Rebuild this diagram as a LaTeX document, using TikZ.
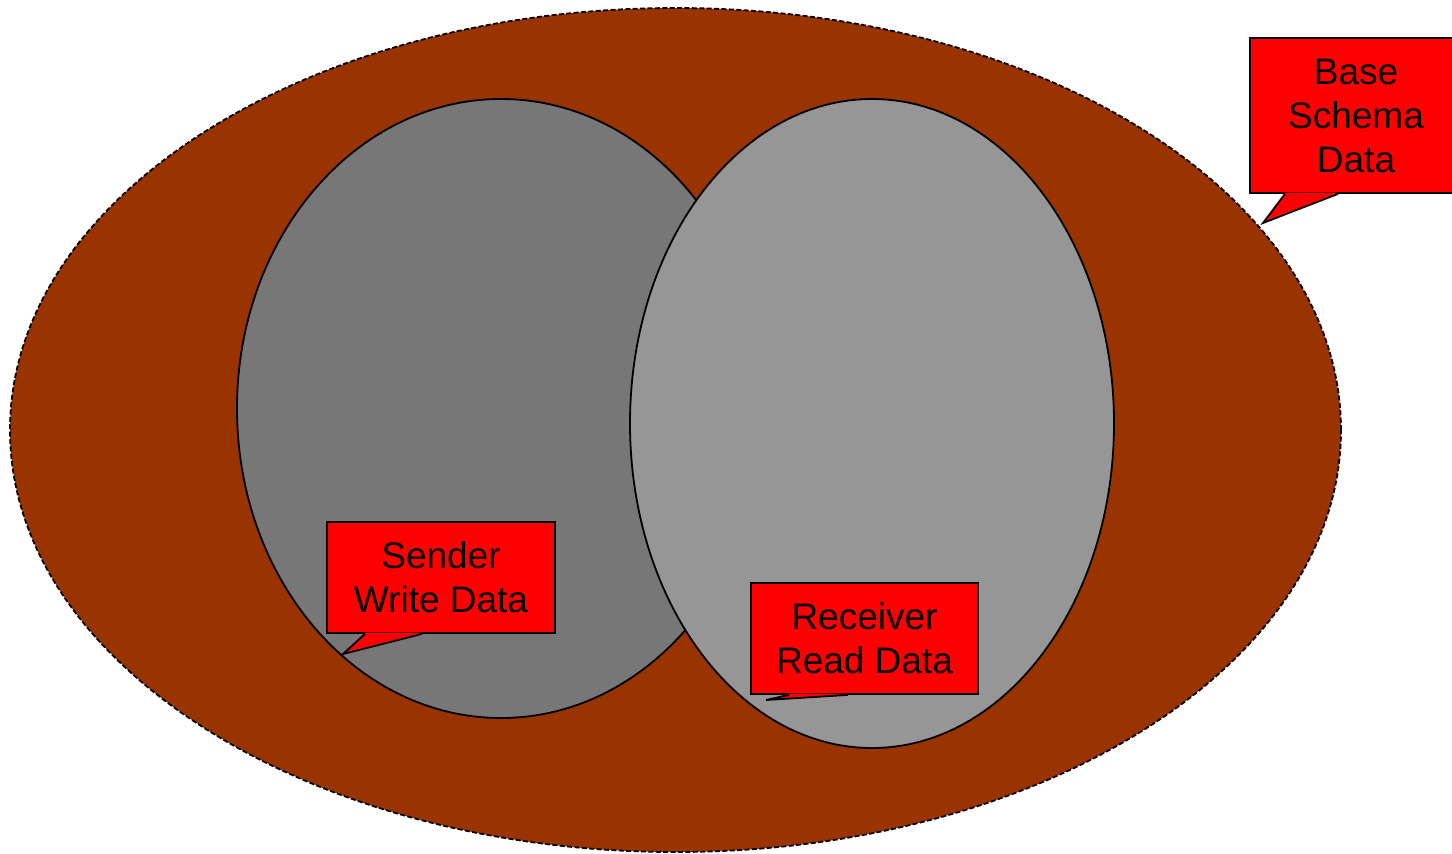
\documentclass[tikz,border=0pt]{standalone}
\usepackage{fontspec}
\setmainfont{Liberation Sans}
\begin{document}
\begin{tikzpicture}[x=0.5pt,y=-0.5pt,
  outerset/.style={fill={rgb,255:red,153;green,51;blue,0},draw=black,line width=0.9pt,dash pattern=on 2.5pt off 1.2pt},
  writeset/.style={fill={rgb,255:red,119;green,119;blue,119},draw=black,line width=0.9pt},
  readset/.style={fill={rgb,255:red,150;green,150;blue,150},draw=black,line width=0.9pt},
  callout/.style={rectangle,fill=red,draw=black,line width=0.9pt,inner sep=0pt,align=center,
    font=\fontsize{18.5pt}{22pt}\selectfont},
  callouttail/.style={fill=red,draw=black,line width=0.9pt,line join=miter}]
\useasboundingbox (0,0) rectangle (1452,853);

% the three data sets
\draw[outerset] (675.5,430) ellipse [x radius=332.75pt, y radius=211pt];
\draw[writeset] (501,408.5) ellipse [x radius=132pt, y radius=154.75pt];
\draw[readset] (872,423.5) ellipse [x radius=121pt, y radius=162.25pt];

% callout labels
\node[callout,minimum width=106pt,minimum height=77.5pt] (base) at (1356,115.5) {Base\\Schema\\Data};
\coordinate (basetip) at (1263,223);
\fill[red] ([yshift=0.6pt]base.south -| 1285,0) -- (basetip) -- ([yshift=0.6pt]base.south -| 1338,0) -- cycle;
\draw[callouttail] (base.south -| 1285,0) -- (basetip) -- (base.south -| 1338,0);

\node[callout,minimum width=114pt,minimum height=55.5pt] (sender) at (441,577.5) {Sender\\Write Data};
\coordinate (sendertip) at (343,654);
\fill[red] ([yshift=0.6pt]sender.south -| 365,0) -- (sendertip) -- ([yshift=0.6pt]sender.south -| 422,0) -- cycle;
\draw[callouttail] (sender.south -| 365,0) -- (sendertip) -- (sender.south -| 422,0);

\node[callout,minimum width=113.5pt,minimum height=55.5pt] (receiver) at (864.5,638.5) {Receiver\\Read Data};
\coordinate (receivertip) at (766,700);
\fill[red] ([yshift=0.6pt]receiver.south -| 789,0) -- (receivertip) -- ([yshift=0.6pt]receiver.south -| 848,0) -- cycle;
\draw[callouttail] (receiver.south -| 789,0) -- (receivertip) -- (receiver.south -| 848,0);
\end{tikzpicture}
\end{document}
